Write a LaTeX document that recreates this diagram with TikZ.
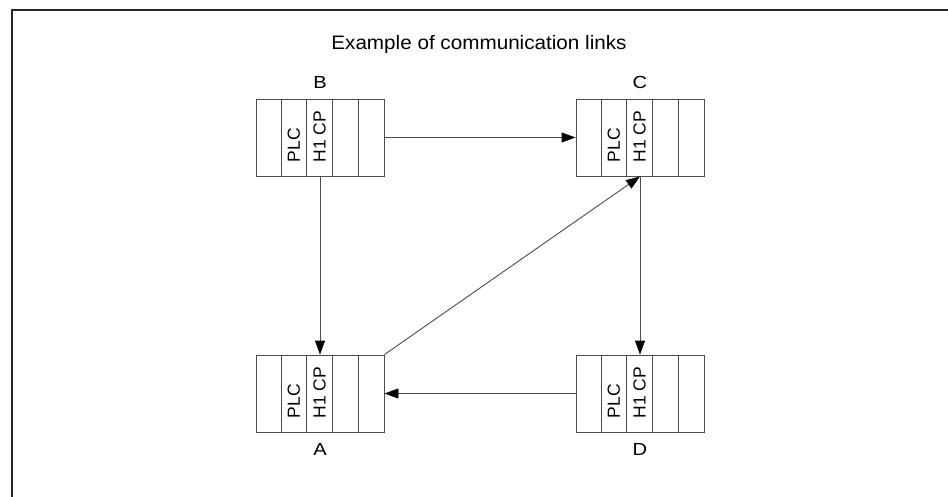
\documentclass[tikz,border=0pt]{standalone}
\usepackage{fontspec}
\setmainfont{Liberation Sans}
\usetikzlibrary{arrows.meta,calc}

\tikzset{
  rack/.style={draw=black!70, line width=0.9pt, minimum width=128pt,
    minimum height=77pt, inner sep=0pt},
  slot/.style={draw=black!70, line width=0.9pt},
  cardtext/.style={rotate=90, anchor=west, inner sep=0pt,
    font=\fontsize{17.5}{17.5}\selectfont, text=black},
  rackname/.style={inner sep=0pt, font=\fontsize{17.5}{17.5}\selectfont, text=black},
  titletext/.style={inner sep=0pt, font=\fontsize{19.5}{19.5}\selectfont, text=black},
  link/.style={draw=black!70, line width=0.9pt,
    -{Triangle[length=14pt,width=10pt,color=black]}},
  frameline/.style={draw=black!85, line width=2pt}
}

% one rack of five slots: PLC in slot 2, H1 CP in slot 3
\newcommand\plcrack[3]{%
  \node[rack] (#1) at (#2,#3) {};
  \foreach \i in {1,...,4}
    \draw[slot] ($(#1.north west)+(25.6*\i,0)$) -- ($(#1.south west)+(25.6*\i,0)$);
  \node[cardtext] (#1-plc) at ($(#1.south west)+(38.4,-14)$) {PLC};
  \node[cardtext] (#1-cp) at ($(#1.south west)+(64,-14)$) {H1 CP};
}

\begin{document}
\begin{tikzpicture}[x=1pt, y=-1pt]
  \useasboundingbox (0,0) rectangle (948,497);

  % outer frame, open at the bottom and right
  \coordinate (fbl) at (12,497);
  \coordinate (ftl) at (12,10);
  \coordinate (ftr) at (948,10);
  \draw[frameline] (fbl) -- (ftl) -- (ftr);

  \node[titletext] (title) at (479,44) {\scalebox{1.06}[1]{Example of communication links}};

  \plcrack{B}{320}{137.5}
  \plcrack{C}{640}{137.5}
  \plcrack{A}{320}{393.5}
  \plcrack{D}{640}{393.5}

  \node[rackname] (B-name) at (320,82) {\scalebox{1.15}[1]{B}};
  \node[rackname] (C-name) at (640,82) {\scalebox{1.15}[1]{C}};
  \node[rackname] (A-name) at (320,449) {\scalebox{1.15}[1]{A}};
  \node[rackname] (D-name) at (640,449) {\scalebox{1.15}[1]{D}};

  % communication links
  \draw[link] (B.east) -- (C.west);
  \draw[link] (B.south) -- (A.north);
  \draw[link] (A.north east) -- (C.south);
  \draw[link] (C.south) -- (D.north);
  \draw[link] (D.west) -- (A.east);
\end{tikzpicture}
\end{document}
